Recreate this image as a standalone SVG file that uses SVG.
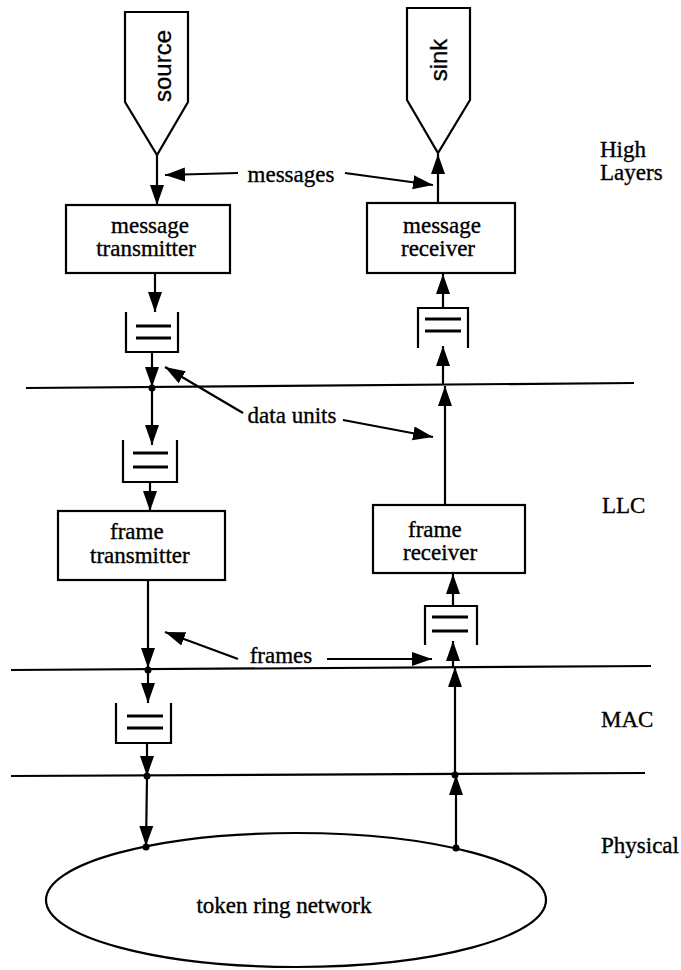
<svg xmlns="http://www.w3.org/2000/svg" width="681" height="970" viewBox="0 0 681 970">
<style>
.s{fill:none;stroke:#000;stroke-width:2.2}
.q{fill:none;stroke:#000;stroke-width:2.2}
.ql{stroke:#000;stroke-width:3}
.c{fill:none;stroke:#000;stroke-width:2.2;marker-end:url(#a)}
.t{font-family:"Liberation Serif",serif;font-size:23px;fill:#000;stroke:#000;stroke-width:0.35}
.tm{font-family:"Liberation Serif",serif;font-size:23px;fill:#000;stroke:#000;stroke-width:0.35;text-anchor:middle}
.h{font-family:"Liberation Sans",sans-serif;font-size:24px;fill:#000;stroke:#000;stroke-width:0.3;text-anchor:middle}
.layer{stroke:#000;stroke-width:2.2}
</style>
<defs>
<marker id="a" markerUnits="userSpaceOnUse" markerWidth="20" markerHeight="15" viewBox="0 0 20 15" refX="20" refY="7.5" orient="auto"><path d="M0,0.5 L20,7.5 L0,14.5 z" fill="#000"/></marker>
</defs>
<rect width="681" height="970" fill="#fff"/>

<g id="layers">
<line class="layer" x1="26" y1="388" x2="634" y2="383"/>
<line class="layer" x1="11" y1="670" x2="651" y2="666"/>
<line class="layer" x1="11" y1="776" x2="645" y2="773"/>
<text class="t" x="600" y="157">High</text>
<text class="t" x="600" y="180">Layers</text>
<text class="t" x="602" y="513">LLC</text>
<text class="t" x="601" y="727">MAC</text>
<text class="t" x="601" y="853">Physical</text>
</g>

<g id="source">
<polygon class="s" points="125,12 188,12 188,102 157,155 125,102"/>
<text class="h" transform="translate(171,66) rotate(-90)">source</text>
</g>
<g id="sink">
<polygon class="s" points="407,8 470,8 470,100 438,153 407,100"/>
<text class="h" transform="translate(447,60) rotate(-90)">sink</text>
</g>

<g id="message-transmitter">
<rect class="s" x="66" y="205" width="164" height="68"/>
<text class="tm" x="150" y="233">message</text>
<text class="tm" x="146" y="256">transmitter</text>
</g>
<g id="message-receiver">
<rect class="s" x="367" y="203" width="148" height="70"/>
<text class="tm" x="442" y="233">message</text>
<text class="tm" x="438" y="256">receiver</text>
</g>

<g id="queue-l1">
<path class="q" d="M126,312 V352 H178 V312"/>
<line class="ql" x1="136" y1="326" x2="171" y2="326"/>
<line class="ql" x1="136" y1="338" x2="171" y2="338"/>
</g>
<g id="queue-l2">
<path class="q" d="M123,440 V482 H177 V440"/>
<line class="ql" x1="133" y1="453" x2="168" y2="453"/>
<line class="ql" x1="133" y1="467" x2="168" y2="467"/>
</g>
<g id="queue-l3">
<path class="q" d="M116,703 V743 H171 V703"/>
<line class="ql" x1="127" y1="716" x2="163" y2="716"/>
<line class="ql" x1="127" y1="728" x2="163" y2="728"/>
</g>
<g id="queue-r1">
<path class="q" d="M418,348 V308 H468 V348"/>
<line class="ql" x1="425" y1="319" x2="461" y2="319"/>
<line class="ql" x1="425" y1="331" x2="461" y2="331"/>
</g>
<g id="queue-r2">
<path class="q" d="M425,645 V606 H477 V645"/>
<line class="ql" x1="432" y1="617" x2="468" y2="617"/>
<line class="ql" x1="432" y1="631" x2="468" y2="631"/>
</g>

<g id="frame-transmitter">
<rect class="s" x="58" y="511" width="167" height="69"/>
<text class="t" x="110" y="539">frame</text>
<text class="t" x="90" y="563">transmitter</text>
</g>
<g id="frame-receiver">
<rect class="s" x="373" y="505" width="152" height="68"/>
<text class="t" x="408" y="537">frame</text>
<text class="t" x="403" y="560">receiver</text>
</g>

<g id="network">
<ellipse class="s" cx="296" cy="900" rx="250" ry="67"/>
<text class="tm" x="284" y="913">token ring network</text>
</g>

<g id="labels">
<text class="tm" x="291" y="182">messages</text>
<text class="tm" x="292" y="423">data units</text>
<text class="tm" x="281" y="663">frames</text>
</g>

<g id="connectors">
<line class="c" x1="157" y1="155" x2="157" y2="205"/>
<line class="c" x1="155" y1="273" x2="155" y2="312"/>
<line class="c" x1="152" y1="352" x2="152" y2="387"/>
<line class="c" x1="152" y1="388" x2="152" y2="445"/>
<line class="c" x1="150" y1="482" x2="150" y2="511"/>
<line class="c" x1="148" y1="580" x2="148" y2="668"/>
<line class="c" x1="148" y1="670" x2="148" y2="703"/>
<line class="c" x1="147" y1="743" x2="147" y2="776"/>
<line class="c" x1="147" y1="776" x2="146" y2="846"/>

<line class="c" x1="438" y1="203" x2="438" y2="154"/>
<line class="c" x1="443" y1="308" x2="443" y2="274"/>
<line class="c" x1="443" y1="385" x2="443" y2="346"/>
<line class="c" x1="445" y1="505" x2="445" y2="386"/>
<line class="c" x1="453" y1="606" x2="453" y2="574"/>
<line class="c" x1="453" y1="667" x2="453" y2="641"/>
<line class="c" x1="455" y1="774" x2="455" y2="667"/>
<line class="c" x1="456" y1="848" x2="456" y2="775"/>

<line class="c" x1="238" y1="173" x2="165" y2="175"/>
<line class="c" x1="345" y1="173" x2="433" y2="185"/>
<line class="c" x1="243" y1="413" x2="165" y2="367"/>
<line class="c" x1="343" y1="420" x2="433" y2="437"/>
<line class="c" x1="238" y1="659" x2="165" y2="632"/>
<line class="c" x1="327" y1="659" x2="432" y2="659"/>

<circle cx="152" cy="388" r="3.5"/>
<circle cx="148" cy="670" r="3.5"/>
<circle cx="147" cy="776" r="3.5"/>
<circle cx="146" cy="847" r="3.5"/>
<circle cx="455" cy="775" r="3.5"/>
<circle cx="456" cy="848" r="3.5"/>
</g>
</svg>
